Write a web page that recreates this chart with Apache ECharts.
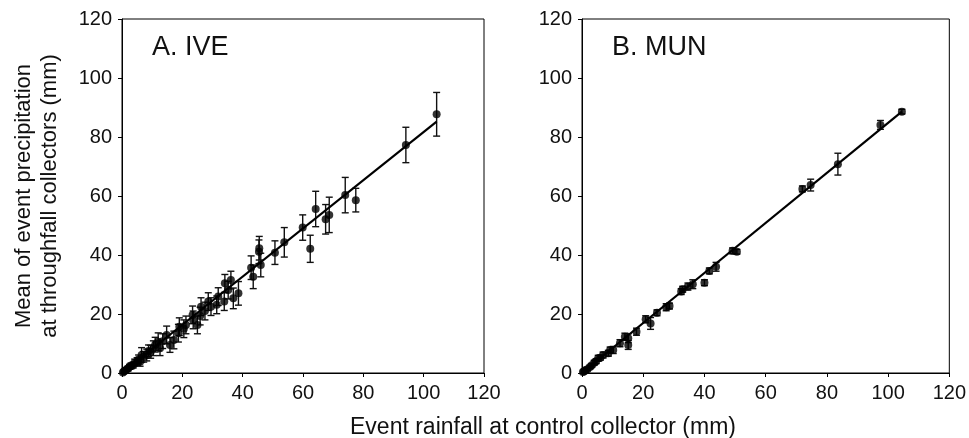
<!DOCTYPE html>
<html><head><meta charset="utf-8">
<script src="https://cdn.jsdelivr.net/npm/echarts@6/dist/echarts.min.js"></script>
<style>html,body{margin:0;padding:0;background:#fff}#c{width:969px;height:438px}</style>
</head><body><div id="c"></div>
<script>
// Panel A (IVE)
const xA = [0.3,0.6,1.0,1.5,2.0,2.5,3.0,3.7,4.2,5.0,5.5,6.0,6.5,7.2,8.2,8.8,9.5,10.4,11.0,12.0,12.6,13.5,14.8,15.9,17.2,18.7,19.0,20.5,21.2,23.4,23.6,25.0,25.9,26.2,27.5,28.6,29.5,31.4,31.9,33.9,34.1,35.2,36.1,36.9,38.6,42.8,43.5,45.4,45.5,46.0,50.7,53.8,59.9,62.4,64.2,67.5,68.7,74.0,77.5,94.1,104.3];
const yA = [0.2,0.5,0.8,1.2,1.5,2.1,2.4,2.7,3.5,3.9,4.6,3.8,6.1,5.5,6.1,7.5,7.2,8.4,9.6,10.6,8.4,10.8,12.9,9.5,11.2,13.5,15.7,15.0,16.3,19.7,18.0,16.3,19.3,22.5,21.0,24.2,22.5,23.1,25.9,24.2,30.4,28.1,31.5,25.3,27.0,35.7,32.6,41.1,42.3,36.6,40.8,44.3,49.3,42.1,55.6,52.1,53.6,60.3,58.6,77.3,87.7];
const errA = [0.3,0.4,0.5,0.6,0.8,0.8,1.0,1.0,1.2,1.3,1.5,1.5,2.5,1.8,2.0,2.0,2.2,2.5,2.5,3.0,2.5,2.5,3.0,2.5,3.0,3.0,3.0,3.0,3.0,3.0,3.0,3.0,3.0,3.0,3.0,3.0,3.0,3.0,3.0,3.0,3.0,3.0,3.0,3.5,4.0,4.0,4.0,4.0,4.0,4.0,4.0,5.0,4.3,4.6,6.0,5.0,6.0,6.0,4.0,6.0,7.4];
const fitA = [[0,0],[104.3,85.2]];
// Panel B (MUN)
const xB = [0.3,0.6,1.0,1.2,1.8,2.6,3.2,4.0,4.6,5.3,6.0,6.9,8.6,9.2,10.2,12.4,14.0,15.1,15.1,17.8,20.8,22.4,24.5,27.5,28.6,32.4,32.9,34.6,36.2,40.0,41.6,43.8,49.2,50.6,72.0,74.7,83.6,97.5,104.5];
const yB = [0.3,0.5,0.8,1.0,1.3,2.0,2.6,3.5,4.0,5.0,5.2,6.1,6.7,7.8,7.8,10.1,12.3,11.8,9.5,14.0,18.2,16.8,20.4,22.3,22.7,27.6,28.4,29.3,30.1,30.6,34.6,36.0,41.4,41.1,62.4,63.7,70.8,84.1,88.6];
const errB = [0.3,0.3,0.4,0.5,0.5,0.6,0.6,0.8,0.8,1.0,0.8,1.0,1.0,1.0,1.2,1.2,1.2,1.5,1.5,1.2,1.2,2.0,1.0,1.2,1.0,1.0,1.0,1.2,1.5,1.0,1.0,1.5,1.0,0.8,1.0,2.0,3.7,1.5,0.8];
const fitB = [[0,0],[104.5,88.6]];
const ticks = [0,20,40,60,80,100,120];

const font = '"Liberation Sans", Arial, sans-serif';
const chart = echarts.init(document.getElementById('c'));

function errRender(params, api) {
  const x = api.value(0), y = api.value(1), e = api.value(2);
  const t = api.coord([x, y + e]), b = api.coord([x, y - e]);
  const hw = 3.5, st = {stroke: '#111', lineWidth: 1.4};
  return {type: 'group', children: [
    {type: 'line', shape: {x1: t[0], y1: t[1], x2: b[0], y2: b[1]}, style: st},
    {type: 'line', shape: {x1: t[0]-hw, y1: t[1], x2: t[0]+hw, y2: t[1]}, style: st},
    {type: 'line', shape: {x1: b[0]-hw, y1: b[1], x2: b[0]+hw, y2: b[1]}, style: st}
  ]};
}
function axisX(g) {
  return {type: 'value', gridIndex: g, min: 0, max: 120, interval: 20,
    axisLine: {show: true, onZero: false, lineStyle: {color: '#000', width: 1}},
    axisTick: {show: true, inside: false, length: 4, lineStyle: {color: '#000'}},
    axisLabel: {color: '#111', fontSize: 20, fontFamily: font, margin: 10},
    splitLine: {show: false}};
}
function axisY(g) {
  return {type: 'value', gridIndex: g, min: 0, max: 120, interval: 20,
    axisLine: {show: true, onZero: false, lineStyle: {color: '#000', width: 1}},
    axisTick: {show: true, inside: false, length: 4, lineStyle: {color: '#000'}},
    axisLabel: {color: '#111', fontSize: 20, fontFamily: font, margin: 10},
    splitLine: {show: false}};
}
function panel(g, xs, ys, es, fit) {
  const pts = xs.map((x, i) => [x, ys[i], es[i]]);
  return [
    {type: 'custom', xAxisIndex: g, yAxisIndex: g, renderItem: errRender, data: pts, encode: {x: 0, y: 1}, clip: true, z: 2, silent: true},
    {type: 'line', xAxisIndex: g, yAxisIndex: g, data: fit, symbol: 'none', lineStyle: {color: '#000', width: 2.2}, z: 3, silent: true},
    {type: 'scatter', xAxisIndex: g, yAxisIndex: g, data: pts.map(p => [p[0], p[1]]), symbol: 'circle', symbolSize: 8, itemStyle: {color: '#000'}, z: 4, silent: true}
  ];
}

chart.setOption({
  animation: false,
  backgroundColor: '#fff',
  grid: [
    {left: 122, right: 485, top: 19, bottom: 65, show: true, borderColor: '#000', borderWidth: 1},
    {left: 582, right: 18, top: 19, bottom: 65, show: true, borderColor: '#000', borderWidth: 1}
  ],
  xAxis: [axisX(0), axisX(1)],
  yAxis: [axisY(0), axisY(1)],
  series: [...panel(0, xA, yA, errA, fitA), ...panel(1, xB, yB, errB, fitB)],
  graphic: [
    {type: 'text', left: 152, top: 34, style: {text: 'A. IVE', font: '27px ' + font, fill: '#111'}},
    {type: 'text', left: 612, top: 34, style: {text: 'B. MUN', font: '27px ' + font, fill: '#111'}},
    {type: 'text', x: 543, y: 428, style: {text: 'Event rainfall at control collector (mm)', font: '23px ' + font, fill: '#111', align: 'center', verticalAlign: 'middle'}},
    {type: 'text', x: 24, y: 196, rotation: Math.PI / 2, style: {text: 'Mean of event precipitation', font: '22px ' + font, fill: '#111', align: 'center', verticalAlign: 'middle'}},
    {type: 'text', x: 50, y: 196, rotation: Math.PI / 2, style: {text: 'at throughfall collectors (mm)', font: '22px ' + font, fill: '#111', align: 'center', verticalAlign: 'middle'}}
  ]
});
</script></body></html>
